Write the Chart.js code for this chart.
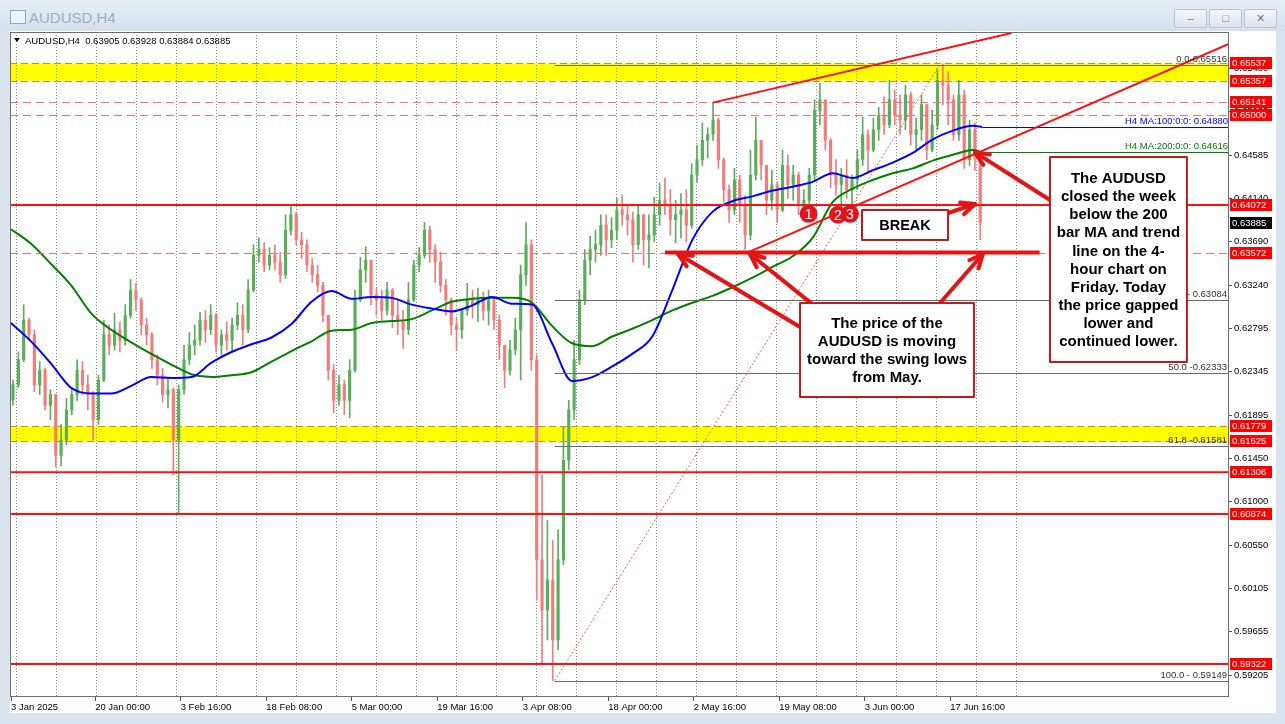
<!DOCTYPE html>
<html>
<head>
<meta charset="utf-8">
<title>AUDUSD,H4</title>
<script src="https://cdn.jsdelivr.net/npm/chart.js@4.4.1/dist/chart.umd.min.js"></script>
<style>
    html, body { margin: 0; padding: 0; }
    body { width: 1285px; height: 724px; overflow: hidden; position: relative; background: #dae4ef; font-family: "Liberation Sans", Arial, sans-serif; }
    #titlebar { position: absolute; left: 0; top: 0; width: 1285px; height: 31px; background: linear-gradient(#e7eef6, #d5e0ec); }
    #titlebar .ico { position: absolute; left: 10px; top: 10px; width: 14px; height: 12px; border: 1px solid #8ea5c3; background: #eef4fb; }
    #titlebar .ttl { position: absolute; left: 29px; top: 9px; font-size: 15px; color: #a2aebc; }
    .btn { position: absolute; top: 9px; width: 31px; height: 17px; border: 1px solid #b7c3d1; border-radius: 2px; background: linear-gradient(#f4f7fa, #dce4ed); color: #6f7c8b; font-size: 11px; line-height: 17px; text-align: center; }
    #inner { position: absolute; left: 10px; top: 31px; width: 1266px; height: 682px; background: #fff; }
    #chart { position: absolute; left: 0; top: 0; }
</style>
</head>
<body>
<div id="titlebar">
    <div class="ico"></div>
    <div class="ttl">AUDUSD,H4</div>
    <div class="btn" style="left:1174px">&#8211;</div>
    <div class="btn" style="left:1209px">&#9633;</div>
    <div class="btn" style="left:1244px">&#10005;</div>
</div>
<div id="inner"></div>
<canvas id="chart" width="1285" height="724" style="width:1285px;height:724px"></canvas>

<script>
// --- datos del grafico (H4, una vela = 4 barras) ---
const barsPerCandle = 4;
const firstOpen = 0.6205;

const closes = [
    0.6221, 0.6247, 0.6288, 0.6273, 0.6221, 0.6236, 0.6200, 0.6211, 0.6148, 0.6164,
    0.6195, 0.6211, 0.6236, 0.6221, 0.6211, 0.6185, 0.6226, 0.6273, 0.6262, 0.6278,
    0.6267, 0.6293, 0.6319, 0.6309, 0.6283, 0.6273, 0.6247, 0.6231, 0.6211, 0.6216,
    0.6164, 0.6216, 0.6247, 0.6262, 0.6267, 0.6288, 0.6278, 0.6293, 0.6262, 0.6273,
    0.6267, 0.6283, 0.6293, 0.6278, 0.6319, 0.6355, 0.6361, 0.6345, 0.6355, 0.6348,
    0.6335, 0.6381, 0.6397, 0.6371, 0.6366, 0.6345, 0.6335, 0.6324, 0.6293, 0.6236,
    0.6205, 0.6221, 0.6205, 0.6236, 0.6309, 0.6340, 0.6350, 0.6314, 0.6309, 0.6298,
    0.6319, 0.6293, 0.6288, 0.6278, 0.6309, 0.6345, 0.6355, 0.6381, 0.6361, 0.6348,
    0.6324, 0.6309, 0.6283, 0.6278, 0.6298, 0.6309, 0.6304, 0.6309, 0.6298, 0.6309,
    0.6288, 0.6262, 0.6236, 0.6257, 0.6278, 0.6335, 0.6366, 0.6247, 0.6040, 0.5988,
    0.6019, 0.5957, 0.6040, 0.6143, 0.6195, 0.6247, 0.6309, 0.6350, 0.6361, 0.6366,
    0.6386, 0.6371, 0.6381, 0.6402, 0.6397, 0.6392, 0.6366, 0.6397, 0.6371, 0.6376,
    0.6397, 0.6412, 0.6407, 0.6392, 0.6397, 0.6402, 0.6386, 0.6438, 0.6454, 0.6474,
    0.6480, 0.6495, 0.6454, 0.6423, 0.6402, 0.6433, 0.6407, 0.6376, 0.6438, 0.6474,
    0.6448, 0.6412, 0.6428, 0.6402, 0.6448, 0.6428, 0.6438, 0.6407, 0.6412, 0.6438,
    0.6505, 0.6516, 0.6474, 0.6438, 0.6428, 0.6438, 0.6423, 0.6433, 0.6454, 0.6480,
    0.6464, 0.6485, 0.6500, 0.6490, 0.6516, 0.6500, 0.6495, 0.6521, 0.6480, 0.6485,
    0.6511, 0.6464, 0.6490, 0.6536, 0.6531, 0.6516, 0.6480, 0.6521, 0.6454, 0.6485,
    0.6456, 0.63885
];
const highs = [
    0.6226, 0.6255, 0.6304, 0.6290, 0.6278, 0.6245, 0.6238, 0.6216, 0.6211, 0.6180,
    0.6207, 0.6218, 0.6247, 0.6245, 0.6231, 0.6214, 0.6231, 0.6288, 0.6283, 0.6295,
    0.6286, 0.6304, 0.6330, 0.6326, 0.6311, 0.6290, 0.6275, 0.6252, 0.6238, 0.6228,
    0.6218, 0.6221, 0.6262, 0.6275, 0.6283, 0.6296, 0.6298, 0.6304, 0.6295, 0.6278,
    0.6286, 0.6290, 0.6306, 0.6304, 0.6330, 0.6366, 0.6373, 0.6368, 0.6363, 0.6366,
    0.6358, 0.6397, 0.6406, 0.6400, 0.6379, 0.6371, 0.6352, 0.6345, 0.6327, 0.6293,
    0.6242, 0.6231, 0.6226, 0.6247, 0.6319, 0.6353, 0.6364, 0.6350, 0.6321, 0.6319,
    0.6327, 0.6321, 0.6309, 0.6298, 0.6327, 0.6350, 0.6363, 0.6389, 0.6385, 0.6366,
    0.6358, 0.6330, 0.6311, 0.6290, 0.6300, 0.6326, 0.6319, 0.6321, 0.6317, 0.6319,
    0.6311, 0.6293, 0.6262, 0.6267, 0.6290, 0.6345, 0.6389, 0.6371, 0.6252, 0.6128,
    0.6081, 0.6060, 0.6071, 0.6177, 0.6205, 0.6267, 0.6319, 0.6361, 0.6375, 0.6381,
    0.6397, 0.6397, 0.6394, 0.6414, 0.6417, 0.6407, 0.6400, 0.6407, 0.6397, 0.6397,
    0.6415, 0.6430, 0.6435, 0.6423, 0.6412, 0.6419, 0.6423, 0.6450, 0.6469, 0.6492,
    0.6487, 0.6513, 0.6497, 0.6456, 0.6428, 0.6445, 0.6438, 0.6417, 0.6464, 0.6498,
    0.6474, 0.6448, 0.6443, 0.6431, 0.6464, 0.6459, 0.6448, 0.6441, 0.6423, 0.6445,
    0.6516, 0.6533, 0.6516, 0.6476, 0.6454, 0.6445, 0.6454, 0.6438, 0.6464, 0.6498,
    0.6485, 0.6497, 0.6508, 0.6519, 0.6536, 0.6526, 0.6521, 0.6531, 0.6524, 0.6497,
    0.6521, 0.6511, 0.6505, 0.6547, 0.6553, 0.6545, 0.6521, 0.6536, 0.6526, 0.6495,
    0.6492, 0.6458
];
const lows = [
    0.6200, 0.6218, 0.6245, 0.6267, 0.6214, 0.6211, 0.6195, 0.6185, 0.6136, 0.6137,
    0.6159, 0.6190, 0.6205, 0.6211, 0.6195, 0.6164, 0.6180, 0.6224, 0.6252, 0.6257,
    0.6255, 0.6262, 0.6290, 0.6298, 0.6273, 0.6262, 0.6238, 0.6221, 0.6203, 0.6197,
    0.6128, 0.6088, 0.6211, 0.6242, 0.6252, 0.6262, 0.6265, 0.6273, 0.6255, 0.6252,
    0.6257, 0.6255, 0.6278, 0.6262, 0.6275, 0.6317, 0.6348, 0.6338, 0.6340, 0.6340,
    0.6327, 0.6331, 0.6376, 0.6366, 0.6352, 0.6338, 0.6327, 0.6317, 0.6286, 0.6226,
    0.6192, 0.6200, 0.6190, 0.6187, 0.6234, 0.6307, 0.6327, 0.6304, 0.6293, 0.6288,
    0.6293, 0.6280, 0.6273, 0.6259, 0.6273, 0.6307, 0.6338, 0.6352, 0.6348, 0.6327,
    0.6317, 0.6293, 0.6273, 0.6257, 0.6269, 0.6293, 0.6290, 0.6286, 0.6288, 0.6283,
    0.6278, 0.6247, 0.6218, 0.6231, 0.6252, 0.6226, 0.6324, 0.6236, 0.5998, 0.5933,
    0.5957, 0.5915, 0.5947, 0.6035, 0.6133, 0.6185, 0.6242, 0.6304, 0.6335, 0.6348,
    0.6355, 0.6355, 0.6363, 0.6371, 0.6386, 0.6376, 0.6348, 0.6361, 0.6345, 0.6342,
    0.6369, 0.6386, 0.6397, 0.6376, 0.6368, 0.6373, 0.6369, 0.6383, 0.6431, 0.6448,
    0.6456, 0.6474, 0.6445, 0.6410, 0.6389, 0.6397, 0.6389, 0.6361, 0.6371, 0.6433,
    0.6433, 0.6397, 0.6402, 0.6389, 0.6400, 0.6414, 0.6412, 0.6397, 0.6392, 0.6402,
    0.6433, 0.6490, 0.6464, 0.6425, 0.6417, 0.6404, 0.6414, 0.6404, 0.6423, 0.6448,
    0.6443, 0.6462, 0.6474, 0.6480, 0.6487, 0.6490, 0.6480, 0.6485, 0.6469, 0.6464,
    0.6474, 0.6454, 0.6462, 0.6485, 0.6511, 0.6490, 0.6474, 0.6474, 0.6445, 0.6448,
    0.6443, 0.6371
];

// medias moviles (indice de barra)
const maIdx = [0, 15, 30, 45, 60, 75, 90, 105, 120, 135, 150, 165, 180, 195, 210, 225, 240,
    255, 270, 285, 300, 315, 330, 345, 360, 375, 390, 405, 420, 435, 450, 465, 480, 495,
    510, 525, 540, 555, 570, 585, 600, 615, 630, 645, 660, 675, 690, 705, 720, 727];
const ma100 = [0.6285, 0.6266, 0.6243, 0.6218, 0.6212, 0.6212, 0.6220, 0.6229, 0.6228, 0.6229,
    0.6244, 0.6255, 0.6263, 0.6270, 0.6284, 0.6307, 0.6318, 0.6310, 0.6312, 0.6311,
    0.6304, 0.6300, 0.6297, 0.6303, 0.6312, 0.6305, 0.6304, 0.6264, 0.6225, 0.6229,
    0.6240, 0.6253, 0.6271, 0.6319, 0.6371, 0.6400, 0.6411, 0.6416, 0.6422, 0.6426,
    0.6431, 0.6440, 0.6435, 0.6443, 0.6451, 0.6461, 0.6475, 0.6484, 0.6489, 0.64880];
const ma200 = [0.6382, 0.6367, 0.6346, 0.6324, 0.6295, 0.6278, 0.6265, 0.6253, 0.6242, 0.6232,
    0.6229, 0.6231, 0.6234, 0.6245, 0.6256, 0.6266, 0.6277, 0.6278, 0.6285, 0.6287,
    0.6289, 0.6298, 0.6307, 0.6310, 0.6311, 0.6311, 0.6306, 0.6282, 0.6264, 0.6261,
    0.6271, 0.6279, 0.6288, 0.6298, 0.6306, 0.6313, 0.6322, 0.6332, 0.6343, 0.6354,
    0.6373, 0.6410, 0.6424, 0.6433, 0.6440, 0.6445, 0.6453, 0.6459, 0.6464, 0.64616];

// ejes
const dateTickIdx = [0, 63, 127, 191, 255, 319, 383, 447, 511, 575, 639, 703];
const dateLabels = ['3 Jan 2025', '20 Jan 00:00', '3 Feb 16:00', '18 Feb 08:00', '5 Mar 00:00', '19 Mar 16:00',
    '3 Apr 08:00', '18 Apr 00:00', '2 May 16:00', '19 May 08:00', '3 Jun 00:00', '17 Jun 16:00'];
const yTicks = [0.65480, 0.65035, 0.64585, 0.64140, 0.63690, 0.63240, 0.62795, 0.62345, 0.61895,
    0.61450, 0.61000, 0.60550, 0.60105, 0.59655, 0.59205];
const header = ['AUDUSD,H4', '0.63905', '0.63928', '0.63884', '0.63885'];

// niveles dibujados
const zones = [[0.65357, 0.65537], [0.61625, 0.61779]];
const solidLevels = [0.64072, 0.61306, 0.60874, 0.59322];
const dashedLevels = [0.65141, 0.65000, 0.63572];
const axisTags = [0.65537, 0.65357, 0.65141, 0.65000, 0.64072, 0.63572, 0.61779, 0.61625, 0.61306, 0.60874, 0.59322];
const lastPrice = 0.63885;
const fibLevels = [0.65516, 0.63084, 0.62333, 0.61581, 0.59149];
const fibLabels = ['0.0-0.65516', '38.2 - 0.63084', '50.0 -0.62333', '61.8 -0.61581', '100.0 - 0.59149'];

// anclas de los objetos (indice de barra, precio)
const fibStart = 407, fibEnd = 695;
const swingLine = { from: 489.5, to: 770, price: 0.6358 };
const trendLines = [[525.4, 0.6513, 749, 0.6585], [551.6, 0.6358, 912, 0.6574]];
const arrows = [
    [590.6, 0.62809, 499.3, 0.63564], [600.3, 0.63040, 553.1, 0.63564], [695.4, 0.63057, 727.5, 0.63564],
    [701.4, 0.63988, 721.6, 0.64081], [777.7, 0.64123, 721.6, 0.64616]
];
const markers = [['1', 597, 0.6398], ['2', 619, 0.6397], ['3', 628, 0.6398]];
const notes = [
    { x0: 637, x1: 701.4, top: 0.64019, bottom: 0.63710, size: 14.5, lines: ['BREAK'] },
    { x0: 590.6, x1: 720.8, top: 0.63057, bottom: 0.62084, size: 15,
      lines: ['The price of the', 'AUDUSD is moving', 'toward the swing lows', 'from May.'] },
    { x0: 777.7, x1: 880.2, top: 0.64568, bottom: 0.62446, size: 15,
      lines: ['The AUDUSD', 'closed the week', 'below the 200', 'bar MA and trend', 'line on the 4-',
              'hour chart on', 'Friday. Today', 'the price gapped', 'lower and', 'continued lower.'] }
];

const BULL = '#5aad5a';
const BEAR = '#f07c7c';
const RED = '#ff1010';
const FONT = '"Liberation Sans", Arial, sans-serif';

const candleX = closes.map((c, k) => k * barsPerCandle + 1.5);
const opens = closes.map((c, k) => k === 0 ? firstOpen : closes[k - 1]);
const candleColors = closes.map((c, k) => c >= opens[k] ? BULL : BEAR);
const gridIdx = [];
for (let k = 0; k <= 25; k++) gridIdx.push(4.27 + k * 29.94);

function hline(ctx, x1, x2, y) {
    ctx.beginPath();
    ctx.moveTo(x1, Math.round(y) + 0.5);
    ctx.lineTo(x2, Math.round(y) + 0.5);
    ctx.stroke();
}

function drawArrow(ctx, x1, y1, x2, y2) {
    const ang = Math.atan2(y2 - y1, x2 - x1);
    const len = 15, spread = 0.42;
    ctx.beginPath();
    ctx.moveTo(x1, y1);
    ctx.lineTo(x2, y2);
    ctx.stroke();
    ctx.beginPath();
    ctx.moveTo(x2 - len * Math.cos(ang - spread), y2 - len * Math.sin(ang - spread));
    ctx.lineTo(x2, y2);
    ctx.lineTo(x2 - len * Math.cos(ang + spread), y2 - len * Math.sin(ang + spread));
    ctx.stroke();
}

const overlayPlugin = {
    id: 'overlayPlugin',
    beforeDraw(chart) {
        const { ctx, chartArea: a, scales: { y } } = chart;
        ctx.save();
        // zonas amarillas
        zones.forEach(([lo, hi]) => {
            const y1 = y.getPixelForValue(hi), y2 = y.getPixelForValue(lo);
            ctx.fillStyle = '#ffff00';
            ctx.fillRect(a.left, y1, a.width, y2 - y1);
            ctx.strokeStyle = '#e68a00';
            ctx.lineWidth = 1;
            ctx.setLineDash([7, 4]);
            hline(ctx, a.left, a.right, y1);
            hline(ctx, a.left, a.right, y2);
        });
        ctx.restore();
    },
    afterDatasetsDraw(chart) {
        const { ctx, chartArea: a, scales: { x, y } } = chart;
        const px = v => x.getPixelForValue(v);
        const py = v => y.getPixelForValue(v);
        ctx.save();
        ctx.beginPath();
        ctx.rect(a.left, a.top, a.width, a.height);
        ctx.clip();

        // retroceso fibonacci
        ctx.strokeStyle = '#6b6b6b';
        ctx.lineWidth = 1;
        fibLevels.forEach(p => hline(ctx, px(fibStart), a.right, py(p)));
        ctx.strokeStyle = '#ff5a5a';
        ctx.setLineDash([2, 2]);
        ctx.beginPath();
        ctx.moveTo(px(fibStart), py(fibLevels[4]));
        ctx.lineTo(px(fibEnd), py(fibLevels[0]));
        ctx.stroke();

        // niveles discontinuos
        ctx.strokeStyle = '#f77070';
        ctx.setLineDash([8, 5]);
        dashedLevels.forEach(p => hline(ctx, a.left, a.right, py(p)));
        ctx.setLineDash([]);

        // niveles solidos
        ctx.strokeStyle = RED;
        ctx.lineWidth = 2;
        solidLevels.forEach(p => {
            ctx.beginPath();
            ctx.moveTo(a.left, py(p));
            ctx.lineTo(a.right, py(p));
            ctx.stroke();
        });

        // medias extendidas a la derecha
        ctx.lineWidth = 1;
        ctx.strokeStyle = '#0000ff';
        hline(ctx, px(maIdx[maIdx.length - 1]), a.right, py(ma100[ma100.length - 1]));
        ctx.strokeStyle = '#008000';
        hline(ctx, px(maIdx[maIdx.length - 1]), a.right, py(ma200[ma200.length - 1]));

        // lineas de tendencia
        ctx.strokeStyle = RED;
        ctx.lineWidth = 2;
        trendLines.forEach(([i1, p1, i2, p2]) => {
            ctx.beginPath();
            ctx.moveTo(px(i1), py(p1));
            ctx.lineTo(px(i2), py(p2));
            ctx.stroke();
        });

        // minimos de mayo
        ctx.strokeStyle = '#e41414';
        ctx.lineWidth = 4;
        ctx.beginPath();
        ctx.moveTo(px(swingLine.from), py(swingLine.price));
        ctx.lineTo(px(swingLine.to), py(swingLine.price));
        ctx.stroke();

        // flechas
        ctx.lineWidth = 4;
        ctx.lineCap = 'round';
        ctx.lineJoin = 'round';
        arrows.forEach(([i1, p1, i2, p2]) => drawArrow(ctx, px(i1), py(p1), px(i2), py(p2)));
        ctx.lineCap = 'butt';

        // textos de las medias y fibonacci
        ctx.font = '9.5px ' + FONT;
        ctx.textAlign = 'right';
        ctx.textBaseline = 'alphabetic';
        ctx.fillStyle = '#333';
        fibLevels.forEach((p, i) => ctx.fillText(fibLabels[i], a.right - 2, py(p) - 3));
        ctx.fillStyle = '#0000ff';
        ctx.fillText('H4 MA:100:0:0: ' + ma100[ma100.length - 1].toFixed(5), a.right - 1, py(ma100[ma100.length - 1]) - 3);
        ctx.fillStyle = '#008000';
        ctx.fillText('H4 MA:200:0:0: ' + ma200[ma200.length - 1].toFixed(5), a.right - 1, py(ma200[ma200.length - 1]) - 3);

        // cuadros de texto
        notes.forEach(n => {
            const x1 = px(n.x0), x2 = px(n.x1), y1 = py(n.top), y2 = py(n.bottom);
            ctx.fillStyle = '#fff';
            ctx.fillRect(x1, y1, x2 - x1, y2 - y1);
            ctx.strokeStyle = '#bf1b1b';
            ctx.lineWidth = 2;
            ctx.strokeRect(x1, y1, x2 - x1, y2 - y1);
            ctx.fillStyle = '#000';
            ctx.font = 'bold ' + n.size + 'px ' + FONT;
            ctx.textAlign = 'center';
            ctx.textBaseline = 'middle';
            const lh = 18.1;
            const cy = (y1 + y2) / 2 - (n.lines.length - 1) * lh / 2;
            n.lines.forEach((t, i) => ctx.fillText(t, (x1 + x2) / 2, cy + i * lh + 1));
        });

        // marcadores 1 2 3
        markers.forEach(([t, i, p]) => {
            ctx.beginPath();
            ctx.arc(px(i), py(p), 9, 0, Math.PI * 2);
            ctx.fillStyle = '#e3141c';
            ctx.fill();
            ctx.fillStyle = '#fff';
            ctx.font = '14px ' + FONT;
            ctx.textAlign = 'center';
            ctx.textBaseline = 'middle';
            ctx.fillText(t, px(i), py(p) + 1);
        });
        ctx.restore();
    },
    afterDraw(chart) {
        const { ctx, chartArea: a, scales: { y } } = chart;
        ctx.save();
        // borde del area
        ctx.strokeStyle = '#6e6e6e';
        ctx.lineWidth = 1;
        ctx.strokeRect(a.left + 0.5, a.top + 0.5, a.width - 1, a.height - 1);

        // etiquetas de precio en el eje
        ctx.font = '9.5px ' + FONT;
        ctx.textAlign = 'left';
        ctx.textBaseline = 'middle';
        axisTags.forEach(p => {
            const yy = Math.round(y.getPixelForValue(p));
            ctx.fillStyle = '#ff0000';
            ctx.fillRect(a.right + 1, yy - 6, 42, 12);
            ctx.fillStyle = '#fff';
            ctx.fillText(p.toFixed(5), a.right + 3, yy + 0.5);
        });
        const ly = Math.round(y.getPixelForValue(lastPrice));
        ctx.fillStyle = '#000';
        ctx.fillRect(a.right + 1, ly - 6, 42, 12);
        ctx.fillStyle = '#fff';
        ctx.fillText(lastPrice.toFixed(5), a.right + 3, ly + 0.5);

        // cabecera
        ctx.fillStyle = '#000';
        ctx.beginPath();
        ctx.moveTo(a.left + 4, a.top + 6);
        ctx.lineTo(a.left + 10, a.top + 6);
        ctx.lineTo(a.left + 7, a.top + 10);
        ctx.closePath();
        ctx.fill();
        ctx.fillText(header[0] + '  ' + header.slice(1).join(' '), a.left + 15, a.top + 9);
        ctx.restore();
    }
};

const chart = new Chart(document.getElementById('chart'), {
    type: 'bar',
    data: {
        datasets: [
            {
                label: 'wicks',
                data: candleX.map((xv, k) => ({ x: xv, y: [lows[k], highs[k]] })),
                backgroundColor: candleColors,
                barThickness: 1,
                grouped: false,
                order: 3
            },
            {
                label: 'bodies',
                data: candleX.map((xv, k) => ({ x: xv, y: [opens[k], closes[k]] })),
                backgroundColor: candleColors,
                barThickness: 2.5,
                minBarLength: 1,
                grouped: false,
                order: 2
            },
            {
                type: 'line',
                label: 'MA 100',
                data: maIdx.map((xv, i) => ({ x: xv, y: ma100[i] })),
                borderColor: '#0000ff',
                borderWidth: 2,
                pointRadius: 0,
                cubicInterpolationMode: 'monotone',
                order: 1
            },
            {
                type: 'line',
                label: 'MA 200',
                data: maIdx.map((xv, i) => ({ x: xv, y: ma200[i] })),
                borderColor: '#008000',
                borderWidth: 2,
                pointRadius: 0,
                cubicInterpolationMode: 'monotone',
                order: 1
            }
        ]
    },
    options: {
        responsive: false,
        animation: false,
        devicePixelRatio: 1,
        events: [],
        layout: { padding: { left: 10, top: 32, right: 0, bottom: 0 } },
        plugins: { legend: { display: false }, tooltip: { enabled: false } },
        scales: {
            x: {
                type: 'linear',
                position: 'bottom',
                min: -0.75,
                max: 911.7,
                offset: false,
                border: { display: false },
                grid: { drawOnChartArea: false, drawTicks: true, tickLength: 4, color: '#555', offset: false },
                ticks: {
                    autoSkip: false,
                    maxRotation: 0,
                    align: 'start',
                    padding: 1,
                    color: '#000',
                    font: { family: FONT, size: 9.5 },
                    callback: (value, index) => dateLabels[index]
                },
                afterBuildTicks: scale => { scale.ticks = dateTickIdx.map(v => ({ value: v })); },
                afterFit: scale => { scale.height = 27; }
            },
            xg: {
                type: 'linear',
                position: 'bottom',
                min: -0.75,
                max: 911.7,
                offset: false,
                border: { display: false, dash: [1, 2] },
                grid: { drawOnChartArea: true, drawTicks: false, color: '#8c8c8c', offset: false },
                ticks: { display: false },
                afterBuildTicks: scale => { scale.ticks = gridIdx.map(v => ({ value: v })); },
                afterFit: scale => { scale.height = 0; }
            },
            y: {
                type: 'linear',
                position: 'right',
                min: 0.58980,
                max: 0.65861,
                border: { display: false },
                grid: { drawOnChartArea: false, drawTicks: true, tickLength: 3, color: '#555' },
                ticks: {
                    padding: 2,
                    color: '#000',
                    font: { family: FONT, size: 9.5 },
                    callback: v => Number(v).toFixed(5)
                },
                afterBuildTicks: scale => { scale.ticks = yTicks.map(v => ({ value: v })); },
                afterFit: scale => { scale.width = 56; }
            }
        }
    },
    plugins: [overlayPlugin]
});
</script>
</body>
</html>
